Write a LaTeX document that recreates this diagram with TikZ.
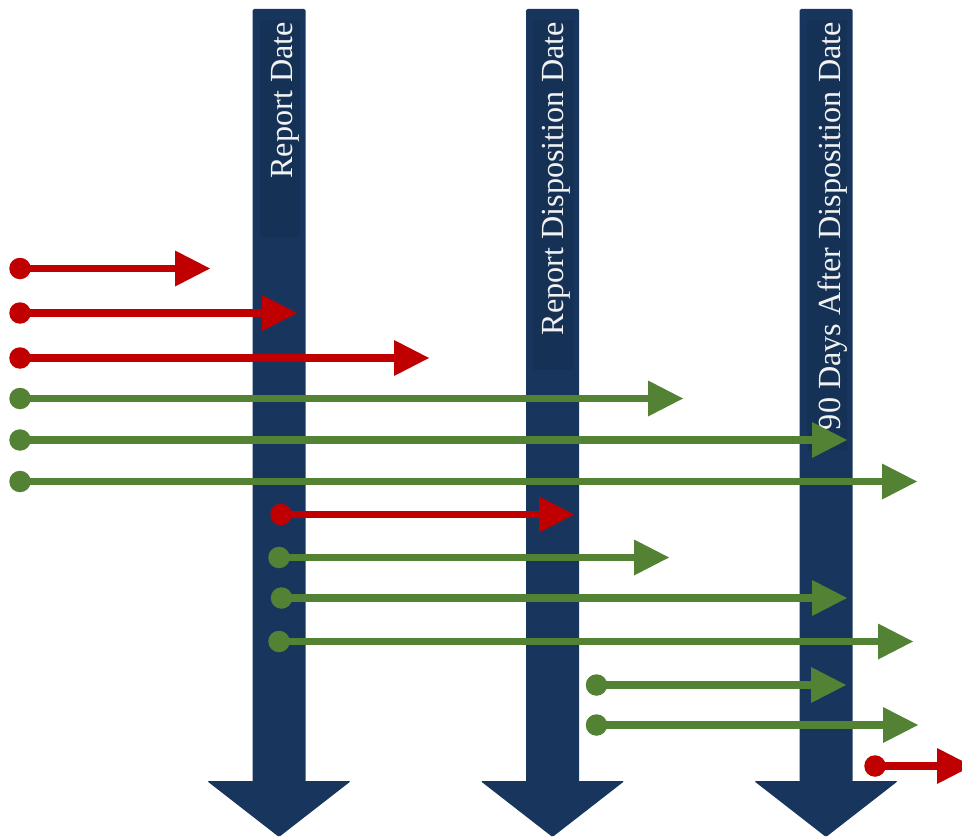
\documentclass[tikz,border=0pt]{standalone}
\usepackage{fontspec}
\setmainfont{Liberation Serif}
\usetikzlibrary{arrows.meta}
\definecolor{navy}{RGB}{24,54,93}
\definecolor{navybox}{RGB}{21,50,86}
\definecolor{redarr}{RGB}{192,0,0}
\definecolor{greenarr}{RGB}{84,130,53}
\definecolor{labelwhite}{RGB}{242,242,242}
\tikzset{
  shaft/.style={fill=navy, rounded corners=1.5pt},
  arrowhead/.style={fill=navy, rounded corners=1.5pt},
  labelbox/.style={fill=navybox},
  collabel/.style={rotate=90, anchor=base east, inner sep=0pt, text=labelwhite,
                   font=\fontsize{32.2pt}{36pt}\selectfont},
  startdot/.style={circle, minimum size=21.5pt, inner sep=0pt, fill=#1},
  flow/.style={draw=#1, line width=7.4pt,
               -{Triangle[length=35pt,width=36pt,line width=0pt,fill=#1]}},
}
\begin{document}
\begin{tikzpicture}[x=1pt,y=-1pt]
\useasboundingbox (0,0) rectangle (962,840);
\clip (0,0) rectangle (962,840);
% columns
\foreach \c/\bend in {279/237, 552.5/370, 826/450}{
  \path[shaft] (\c-26.5,9) rectangle (\c+26.5,782);
  \path[arrowhead] (\c-72,781) -- (\c+72,781) -- (\c,837) -- cycle;
  \path[labelbox] (\c-19.5,20) rectangle (\c+21,\bend);
}
\node[collabel] (l1) at (292,22) {Report Date};
\node[collabel] (l2) at (563.5,22) {Report Disposition Date};
\node[collabel] (l3) at (840,22) {90 Days After Disposition Date};
% flows
\foreach \i/\x/\y/\t/\col in {
  1/20/268.5/210/redarr,
  2/20/313/297/redarr,
  3/20/358/429/redarr,
  4/20/398.5/683/greenarr,
  5/20/440/847/greenarr,
  6/20/481.5/917/greenarr,
  7/281/514.5/574/redarr,
  8/279/557.5/669/greenarr,
  9/281.5/598/847/greenarr,
  10/279/641.5/913/greenarr,
  11/596.5/685/846/greenarr,
  12/596.5/725/918/greenarr,
  13/875/766/972/redarr}{
  \node[startdot=\col] (s\i) at (\x,\y) {};
  \coordinate (e\i) at (\t,\y);
  \draw[flow=\col] (s\i.center) -- (e\i);
}
\end{tikzpicture}
\end{document}
